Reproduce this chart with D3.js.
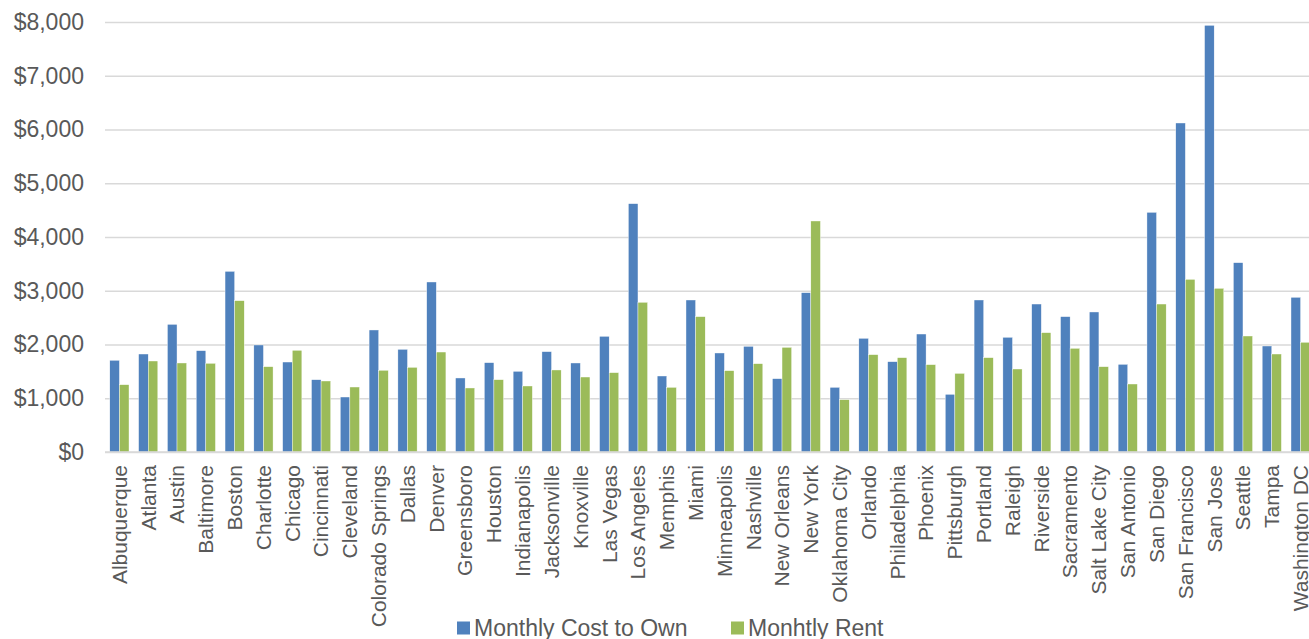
<!DOCTYPE html>
<html>
<head>
<meta charset="utf-8">
<script src="https://cdn.jsdelivr.net/npm/d3@7"></script>
<style>
  body { margin: 0; background: #fff; overflow: hidden; }
  text { font-family: "Liberation Sans", Arial, sans-serif; fill: #595959; }
</style>
</head>
<body>
<script>
// cities along the x axis
var cities = ["Albuquerque", "Atlanta", "Austin", "Baltimore", "Boston", "Charlotte", "Chicago",
  "Cincinnati", "Cleveland", "Colorado Springs", "Dallas", "Denver", "Greensboro", "Houston",
  "Indianapolis", "Jacksonville", "Knoxville", "Las Vegas", "Los Angeles", "Memphis", "Miami",
  "Minneapolis", "Nashville", "New Orleans", "New York", "Oklahoma City", "Orlando", "Philadelphia",
  "Phoenix", "Pittsburgh", "Portland", "Raleigh", "Riverside", "Sacramento", "Salt Lake City",
  "San Antonio", "San Diego", "San Francisco", "San Jose", "Seattle", "Tampa", "Washington DC"];

// monthly cost to own, $
var ownCost = [1706, 1823, 2375, 1885, 3361, 1991, 1674, 1345, 1023, 2270, 1910, 3163, 1377, 1662,
  1501, 1867, 1656, 2152, 4620, 1414, 2828, 1842, 1966, 1364, 2964, 1203, 2115, 1680,
  2195, 1073, 2828, 2134, 2753, 2518, 2605, 1631, 4459, 6121, 7938, 3522, 1972, 2878];

// monthly rent, $
var rentCost = [1252, 1693, 1656, 1650, 2815, 1587, 1892, 1321, 1209, 1520, 1575, 1860, 1191, 1345,
  1228, 1526, 1395, 1476, 2785, 1203, 2518, 1513, 1643, 1947, 4298, 973, 1811, 1755,
  1625, 1463, 1755, 1544, 2220, 1929, 1587, 1265, 2753, 3212, 3045, 2158, 1823, 2041];

var seriesNames = ["Monthly Cost to Own", "Monhtly Rent"];   // typo is in the original
var seriesColors = ["#4F81BD", "#9BBB59"];
var yTicks = [0, 1000, 2000, 3000, 4000, 5000, 6000, 7000, 8000];

var W = 1309, H = 639;
var svg = d3.select("body").append("svg")
  .attr("width", W)
  .attr("height", H);

// plot runs a little past the right edge, like the original crop
var x0 = d3.scaleBand().domain(cities).range([105, 1315]).paddingInner(1 / 3).paddingOuter(1 / 6);
var x1 = d3.scaleBand().domain([0, 1]).range([0, x0.bandwidth()]);
var y = d3.scaleLinear().domain([0, 8000]).range([452, 22]);

// gridlines + y labels
var yAxis = d3.axisLeft(y).tickValues(yTicks).tickSize(-(1315 - 105)).tickPadding(21)
  .tickFormat(function(d) { return "$" + d3.format(",")(d); });
var gy = svg.append("g").attr("transform", "translate(105,0)").call(yAxis);
gy.select(".domain").remove();
gy.selectAll(".tick line").attr("stroke", "#D9D9D9").attr("stroke-width", 1.3);
gy.selectAll(".tick text").style("font-size", "23px").attr("fill", "#595959");

// bars
var rows = cities.map(function(c, i) { return { city: c, vals: [ownCost[i], rentCost[i]] }; });
var grp = svg.selectAll("g.city").data(rows).enter().append("g")
  .attr("class", "city")
  .attr("transform", function(d) { return "translate(" + x0(d.city) + ",0)"; });
grp.selectAll("rect").data(function(d) { return d.vals; }).enter().append("rect")
  .attr("x", function(d, i) { return x1(i); })
  .attr("y", function(d) { return y(d); })
  .attr("width", x1.bandwidth())
  .attr("height", function(d) { return y(0) - y(d); })
  .attr("fill", function(d, i) { return seriesColors[i]; })
  .attr("stroke", "#fff").attr("stroke-width", 0.4);

// baseline
svg.append("line").attr("x1", 105).attr("x2", 1315).attr("y1", y(0)).attr("y2", y(0))
  .attr("stroke", "#D9D9D9").attr("stroke-width", 1.5);

// category labels, rotated
svg.selectAll("text.cat").data(cities).enter().append("text")
  .attr("class", "cat")
  .attr("transform", function(d) {
    return "translate(" + (x0(d) + x0.bandwidth() / 2) + ",465) rotate(-90)";
  })
  .attr("text-anchor", "end")
  .attr("dy", "0.35em")
  .style("font-size", "21px")
  .text(function(d) { return d; });

// legend
var legX = [457, 731];
var leg = svg.selectAll("g.leg").data(seriesNames).enter().append("g")
  .attr("class", "leg")
  .attr("transform", function(d, i) { return "translate(" + legX[i] + ",628)"; });
leg.append("rect").attr("x", 0).attr("y", -6.5).attr("width", 13).attr("height", 13)
  .attr("fill", function(d, i) { return seriesColors[i]; });
leg.append("text").attr("x", 17).attr("dy", "0.35em").style("font-size", "23px")
  .text(function(d) { return d; });
</script>
</body>
</html>
